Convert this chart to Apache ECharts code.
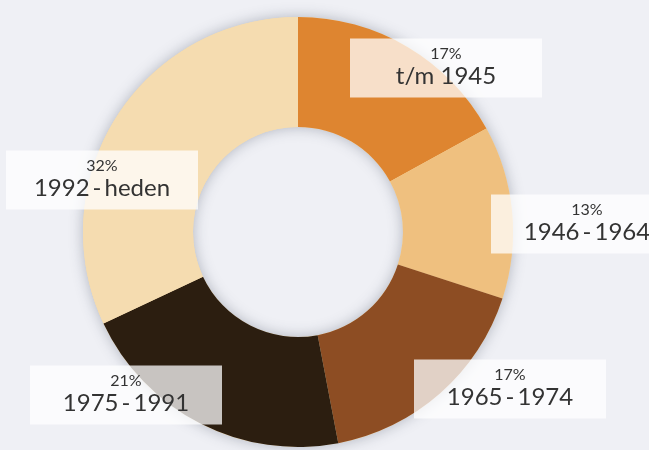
<!DOCTYPE html>
<html>
<head>
<meta charset="utf-8">
<script src="https://cdn.jsdelivr.net/npm/echarts@6/dist/echarts.min.js"></script>
<style>
html,body{margin:0;padding:0;background:#eff0f5;}
#chart{width:649px;height:450px;}
</style>
</head>
<body>
<div id="chart"></div>
<script>
// Data
var categories = ['t/m 1945', '1946\u2009-\u20091964', '1965\u2009-\u20091974', '1975\u2009-\u20091991', '1992\u2009-\u2009heden'];
var shares = [17, 13, 17, 21, 32];
// Styles / layout
var colors = ['#de8530', '#efc07f', '#8d4d23', '#2c1e10', '#f5dcb0'];
var labelCenters = [[446, 68], [587, 224], [510, 389], [126, 395], [102, 180]];

var chart = echarts.init(document.getElementById('chart'));
var radius = [105, 215];

chart.setOption({
  backgroundColor: '#eff0f5',
  animation: false,
  series: [
    {
      type: 'pie',
      silent: true,
      z: 1,
      center: [298, 232],
      radius: radius,
      label: { show: false },
      labelLine: { show: false },
      data: [{ value: 1, itemStyle: { color: '#f5dcb0', shadowBlur: 14, shadowColor: 'rgba(60,70,90,0.35)' } }]
    },
    {
      type: 'pie',
      z: 2,
      center: [298, 232],
      radius: radius,
      startAngle: 90,
      clockwise: true,
      avoidLabelOverlap: false,
      itemStyle: { borderWidth: 0 },
      labelLine: { show: false },
      label: {
        show: true,
        position: 'outside',
        formatter: function (p) { return '{p|' + p.value + '%}\n{n|' + p.name + '}'; },
        backgroundColor: 'rgba(255,255,255,0.74)',
        width: 172,
        padding: [6, 10, 8, 10],
        align: 'center',
        rich: {
          p: { fontFamily: 'Lato', fontSize: 16, lineHeight: 19, color: '#333', align: 'center', letterSpacing: -1 },
          n: { fontFamily: 'Lato', fontSize: 24, lineHeight: 26, color: '#333', align: 'center' }
        }
      },
      labelLayout: function (params) {
        var c = labelCenters[params.dataIndex];
        return { x: c[0], y: c[1], align: 'center', verticalAlign: 'middle' };
      },
      data: categories.map(function (name, i) {
        return { name: name, value: shares[i], itemStyle: { color: colors[i] } };
      })
    }
  ]
});
</script>
</body>
</html>
